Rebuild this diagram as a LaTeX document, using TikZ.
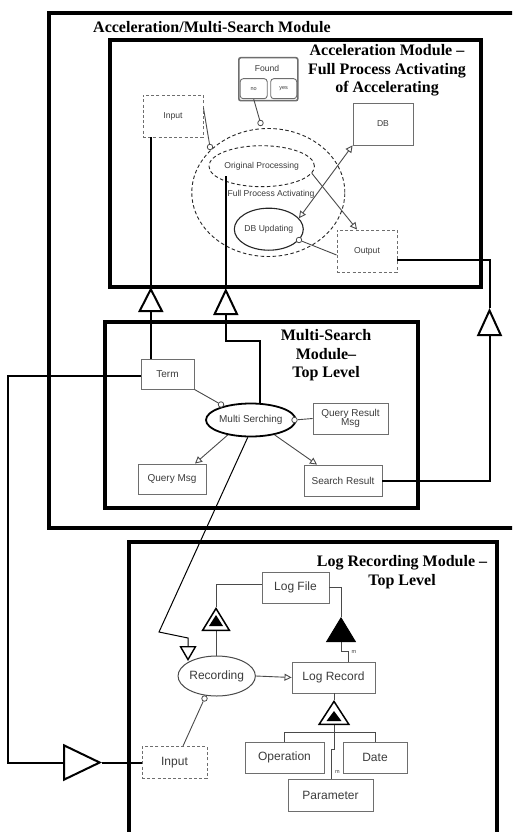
\documentclass[tikz,border=0pt]{standalone}
\usepackage{fontspec}
\setmainfont{Liberation Serif}
\setsansfont{Liberation Sans}
\usetikzlibrary{arrows.meta,shapes.geometric}
\definecolor{ln}{HTML}{4A4A4A}
\definecolor{bx}{HTML}{6E6E6E}
\definecolor{tx}{HTML}{3C3C3C}
\begin{document}
\begin{tikzpicture}[x=1pt,y=-1pt,
  modbox/.style={draw=black,line width=4pt},
  ttl/.style={font=\fontsize{16}{18}\selectfont\bfseries,inner sep=0pt},
  ubox/.style={draw=bx,line width=0.9pt,fill=white,inner sep=0pt,text=tx,align=center},
  dbox/.style={ubox,dash pattern=on 3pt off 2.2pt},
  fa/.style={font=\sffamily\fontsize{8.6}{10}\selectfont},
  fm/.style={font=\sffamily\fontsize{10}{9.2}\selectfont},
  fl/.style={font=\sffamily\fontsize{12}{14}\selectfont},
  conn/.style={draw=ln,line width=0.9pt},
  oarr/.style={conn,-{Triangle[open,length=7pt,width=7pt]}},
  gen/.style={draw=black,line width=2pt},
  lolly/.style={circle,draw=ln,line width=0.8pt,fill=white,minimum size=5.5pt,inner sep=0pt},
  mlab/.style={font=\sffamily\fontsize{5.5}{6}\selectfont,text=tx,inner sep=0pt},
  ]
\useasboundingbox (0,0) rectangle (512,832);
\clip (0,0) rectangle (512,832);
\fill[white] (0,0) rectangle (512,832);

% ---------- module frames ----------
\draw[modbox] (49,13) rectangle (540,528);
\draw[modbox] (110,40) rectangle (481,286.5);
\draw[modbox] (105,322) rectangle (418,508);
\draw[modbox] (129,542) rectangle (497,860);

% ---------- titles ----------
\node[ttl,anchor=base west] (t0) at (93,33) {Acceleration/Multi-Search Module};
\node[ttl,anchor=base] (t1a) at (387,56) {Acceleration Module –};
\node[ttl,anchor=base] (t1b) at (387,75) {Full Process Activating};
\node[ttl,anchor=base] (t1c) at (387,93) {of Accelerating};
\node[ttl,anchor=base] (t2a) at (326,340) {Multi-Search};
\node[ttl,anchor=base] (t2b) at (326,359) {Module–};
\node[ttl,anchor=base] (t2c) at (326,377) {Top Level};
\node[ttl,anchor=base] (t3a) at (402,566) {Log Recording Module –};
\node[ttl,anchor=base] (t3b) at (402,585) {Top Level};

% ---------- Acceleration module ----------
\node[ellipse,draw=black!85,line width=0.9pt,dash pattern=on 3.5pt off 2.5pt,inner sep=0pt,
      minimum width=153pt,minimum height=128pt] (fullproc) at (268.3,192.5) {};
\node[fa,text=tx,inner sep=0pt] (fpt) at (271,194) {Full Process Activating};
\node[ellipse,draw=black!85,line width=0.9pt,dash pattern=on 3.5pt off 2.5pt,inner sep=0pt,
      minimum width=87pt,minimum height=41pt,fa,text=tx] (origproc) at (261.7,166.2) {Original Processing};
\node[ellipse,draw=black!85,line width=1.1pt,inner sep=0pt,fill=white,
      minimum width=59pt,minimum height=42pt,fa,text=tx] (dbupd) at (268.8,229.2) {DB Updating};

\node[dbox,fa,minimum width=60pt,minimum height=42pt] (accinput) at (173,116) {Input};
\node[ubox,fa,minimum width=60pt,minimum height=42pt] (db) at (383,124) {DB};
\node[dbox,fa,minimum width=60pt,minimum height=42pt] (output) at (367,251) {Output};

\node[draw=bx,line width=1.6pt,rounded corners=2pt,fill=white,inner sep=0pt,
      minimum width=59pt,minimum height=43pt] (found) at (268.3,79.2) {};
\node[fa,text=tx,inner sep=0pt] (foundt) at (267,68) {Found};
\node[ubox,rounded corners=3pt,font=\sffamily\fontsize{5.5}{6}\selectfont,
      minimum width=27pt,minimum height=20pt] (no) at (253.7,88.7) {no};
\node[ubox,rounded corners=3pt,font=\sffamily\fontsize{5.5}{6}\selectfont,
      minimum width=26pt,minimum height=20pt] (yes) at (283.7,88.7) {yes};

\node[lolly] (c1) at (210,147) {};
\node[lolly] (c2) at (260.5,123) {};
\node[lolly] (c3) at (299,240) {};
\draw[conn] (accinput.15) -- (c1);
\draw[conn] (no.south) -- (c2);
\draw[conn] (c3) -- ([yshift=-4pt]output.west);
\draw[conn,{Triangle[open,length=7pt,width=7pt]}-{Triangle[open,length=7pt,width=7pt]}] (dbupd.20) -- (db.south west);
\draw[oarr] (origproc.-8) -- ([xshift=-10pt]output.north);

% ---------- Multi-Search module ----------
\node[ubox,fm,minimum width=53pt,minimum height=30pt] (term) at (167.5,374) {Term};
\node[ellipse,draw=black,line width=1.8pt,fill=white,inner sep=0pt,
      minimum width=80pt,minimum height=33pt,fm,text=tx] (ms) at (250.8,420) {Multi Serching};
\node[ubox,fm,minimum width=75pt,minimum height=31pt] (qrm) at (350.5,418.5) {Query Result\\Msg};
\node[ubox,fm,minimum width=68pt,minimum height=30pt] (qmsg) at (172,479) {Query Msg};
\node[ubox,fm,minimum width=78pt,minimum height=31pt] (sres) at (343,480.5) {Search Result};

\node[lolly] (c4) at (221,404.5) {};
\node[lolly] (c5) at (294.5,420) {};
\draw[conn] (term.south east) -- (c4);
\draw[conn] (c5) -- (qrm.west);
\draw[oarr] (ms.213) -- ([xshift=23pt]qmsg.north);
\draw[oarr] (ms.-32) -- ([xshift=-26pt]sres.north);

% ---------- generalisation connectors ----------
\coordinate (t1apex) at (150.8,287);
\draw[gen] ([xshift=-22.2pt]accinput.south) -- (t1apex);
\draw[gen,-{Triangle[open,length=25pt,width=25pt]}] ([xshift=-16.7pt]term.north) -- (t1apex);

\coordinate (t2apex) at (225.8,288);
\draw[gen] (origproc.192 -| t2apex) -- (t2apex);
\draw[gen,-{Triangle[open,length=27pt,width=25pt]}] ([xshift=9.2pt]ms.north) -- ++(0,-62) -| (t2apex);

\coordinate (t3apex) at (489.5,308);
\draw[gen] ([yshift=-9pt]output.east) -| (t3apex);
\draw[gen,-{Triangle[open,length=28pt,width=25pt]}] (sres.east) -| (t3apex);

% ---------- Log Recording module ----------
\node[ubox,fl,minimum width=67pt,minimum height=31pt] (logfile) at (295.5,587.5) {Log File};
\node[ellipse,draw=ln,line width=1pt,fill=white,inner sep=0pt,
      minimum width=77pt,minimum height=40pt,fl,text=tx] (recording) at (216.7,676) {Recording};
\node[ubox,fl,minimum width=83pt,minimum height=31pt] (logrec) at (333.5,677.5) {Log Record};
\node[ubox,fl,minimum width=79pt,minimum height=31pt] (operation) at (284.5,757.5) {Operation};
\node[ubox,fl,minimum width=64pt,minimum height=31pt] (date) at (375,757.5) {Date};
\node[ubox,fl,minimum width=85pt,minimum height=32pt] (param) at (330.5,795) {Parameter};
\node[dbox,fl,minimum width=65pt,minimum height=32pt] (loginput) at (174.5,762.5) {Input};

\coordinate (t4apex) at (102,762.5);
\draw[gen,-{Triangle[open,length=39pt,width=37pt]}] ([yshift=-2pt]term.west) -- (8,376) -- (8,762.5) -- (t4apex);
\draw[gen] (t4apex) -- (loginput.west);

\coordinate (rtip) at (188,661);
\draw[black,line width=1pt,-{Triangle[open,length=15pt,width=17pt,line width=1.4pt]}] (ms.-100) -- (159,632) -- (188,638) -- (rtip);

\coordinate (lt1apex) at (216,607);
\draw[conn] ([yshift=3.5pt]logfile.west) -| (lt1apex);
\draw[conn,-{Triangle[open,length=24pt,width=29pt,line width=1.5pt,color=black]}] (recording.north -| lt1apex) -- (lt1apex);
\fill[black,shift={(lt1apex)}] (0,8) -- (-7,19) -- (7,19) -- cycle;

\coordinate (lt2apex) at (341,617);
\draw[conn] (lt2apex) |- (logfile.east);
\draw[conn,-{Triangle[length=25pt,width=30pt,color=black]}] ([xshift=14.5pt]logrec.north) -- ++(0,-10) -- ++(-7,0) -- (lt2apex);
\node[mlab] (m1) at (354,652) {m};

\coordinate (lt3apex) at (334,700);
\draw[conn] (logrec.south -| lt3apex) -- (lt3apex);
\draw[conn,-{Triangle[open,length=25pt,width=32pt,line width=1.5pt,color=black]}] ([xshift=1.2pt]param.north) -- ++(0,-29) -- ++(2.3,0) -- (lt3apex);
\fill[black,shift={(lt3apex)}] (0,11) -- (-7.5,21) -- (7.5,21) -- cycle;
\draw[conn] (operation.north) -- ++(0,-9) -| (date.north);
\node[mlab] (m2) at (337.5,772) {m};

\draw[oarr] (recording.east) -- (logrec.west);
\node[lolly] (c6) at (204.5,698.5) {};
\draw[conn] (c6) -- ([xshift=8.5pt]loginput.north);

\end{tikzpicture}
\end{document}
